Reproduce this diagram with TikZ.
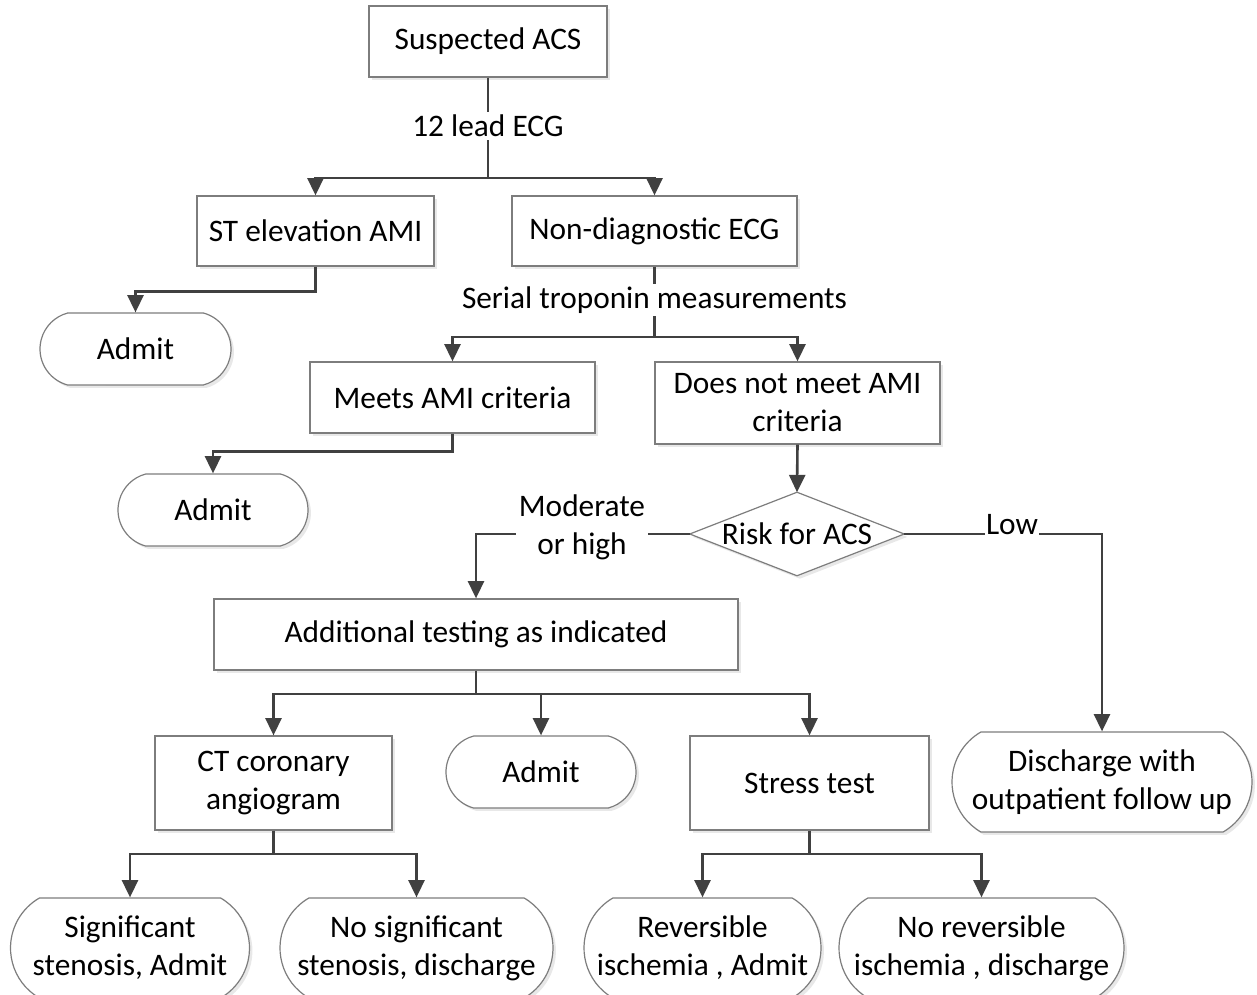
\documentclass[tikz,border=0pt]{standalone}
\usepackage{fontspec}
\setmainfont{Carlito}
\usetikzlibrary{arrows.meta,shapes.misc,shadows}
\newlength\px
\setlength\px{0.75pt}
\definecolor{conncol}{RGB}{64,64,64}
\definecolor{edgecol}{RGB}{125,125,125}
\begin{document}
\begin{tikzpicture}[x=0.75pt,y=-0.75pt,
  font=\fontsize{23.5}{28.5}\selectfont,
  box/.style={draw=edgecol, line width=0.9pt, fill=white, inner sep=0pt, align=center,
    drop shadow={shadow xshift=2.2pt, shadow yshift=-2.2pt, fill=black!18}},
  stad/.style={box, rounded rectangle, rounded rectangle arc length=#1},
  ghost/.style={inner sep=0pt},
  conn/.style={draw=conncol, line width=1.95pt},
  arr/.style={conn, -{Triangle[length=13pt,width=12pt]}},
  lbl/.style={fill=white, inner sep=2pt, align=center}
]
\useasboundingbox (0,0) rectangle (1257,995);

% nodes
\node[box, minimum width=238\px, minimum height=71\px] (sus) at (488,41.5) {Suspected ACS};
\node[box, minimum width=237\px, minimum height=70\px] (st) at (315.5,231) {ST elevation AMI};
\node[box, minimum width=285\px, minimum height=70\px] (nd) at (654.5,231) {Non-diagnostic ECG};
\node[stad=150, minimum width=191\px, minimum height=72\px] (adm1) at (135.5,349) {Admit};
\node[box, minimum width=285\px, minimum height=71\px] (meets) at (452.5,397.5) {Meets AMI criteria};
\node[box, minimum width=285\px, minimum height=82\px] (dnm) at (797.5,403) {Does not meet AMI\\criteria};
\node[stad=150, minimum width=190\px, minimum height=72\px] (adm2) at (213,510) {Admit};

\node[ghost, minimum width=214\px, minimum height=83\px] (risk) at (797,534) {};
\draw[draw=edgecol, line width=0.9pt, fill=white,
    drop shadow={shadow xshift=2.2pt, shadow yshift=-2.2pt, fill=black!18}]
  (risk.west) -- (risk.north) -- (risk.east) -- (risk.south) -- cycle;
\node (risktxt) at (risk.center) {Risk for ACS};

\node[box, minimum width=524\px, minimum height=71\px] (add) at (476,634.5) {Additional testing as indicated};
\node[box, minimum width=237\px, minimum height=94\px] (ct) at (273.5,783) {CT coronary\\angiogram};
\node[stad=150, minimum width=190\px, minimum height=72\px] (adm3) at (541,772) {Admit};
\node[box, minimum width=239\px, minimum height=94\px] (stress) at (809.5,783) {Stress test};
\node[stad=120, minimum width=300\px, minimum height=100\px] (dis) at (1102,782) {Discharge with\\outpatient follow up};
\node[stad=120, minimum width=239\px, minimum height=100\px] (sig) at (130,948) {Significant\\stenosis, Admit};
\node[stad=120, minimum width=273\px, minimum height=100\px] (nosig) at (416.5,948) {No significant\\stenosis, discharge};
\node[stad=120, minimum width=237\px, minimum height=100\px] (rev) at (702.5,948) {Reversible\\ischemia , Admit};
\node[stad=120, minimum width=285\px, minimum height=100\px] (norev) at (981.5,948) {No reversible\\ischemia , discharge};

% junctions
\coordinate (j1) at (488,178);
\coordinate (j2) at (654.5,337);
\coordinate (j3) at (476,694);
\coordinate (j4) at (273.5,854);
\coordinate (j5) at (809.5,854);

% connectors
\draw[conn] (sus.south) -- (j1);
\draw[arr] (j1) -| (st.north);
\draw[arr] (j1) -| (nd.north);
\draw[arr] (st.south) -- ++(0,25) -| (adm1.north);
\draw[conn] (nd.south) -- (j2);
\draw[arr] (j2) -| (meets.north);
\draw[arr] (j2) -| (dnm.north);
\draw[arr] (meets.south) -- ++(0,18) -| (adm2.north);
\draw[arr] (dnm.south) -- (risk.north);
\draw[arr] (risk.west) -| (add.north);
\draw[arr] (risk.east) -| (dis.north);
\draw[conn] (add.south) -- (j3);
\draw[arr] (j3) -| (ct.north);
\draw[arr] (j3) -| (adm3.north);
\draw[arr] (j3) -| (stress.north);
\draw[conn] (ct.south) -- (j4);
\draw[arr] (j4) -| (sig.north);
\draw[arr] (j4) -| (nosig.north);
\draw[conn] (stress.south) -- (j5);
\draw[arr] (j5) -| (rev.north);
\draw[arr] (j5) -| (norev.north);

% connector labels
\node[lbl] (l12) at (488,126) {12 lead ECG};
\node[lbl] (ltrop) at (654.5,300) {Serial troponin measurements};
\node[lbl] (lmod) at (582,527) {Moderate\\or high};
\node[lbl, inner sep=1pt] (llow) at (1012,525) {Low};
\end{tikzpicture}
\end{document}
